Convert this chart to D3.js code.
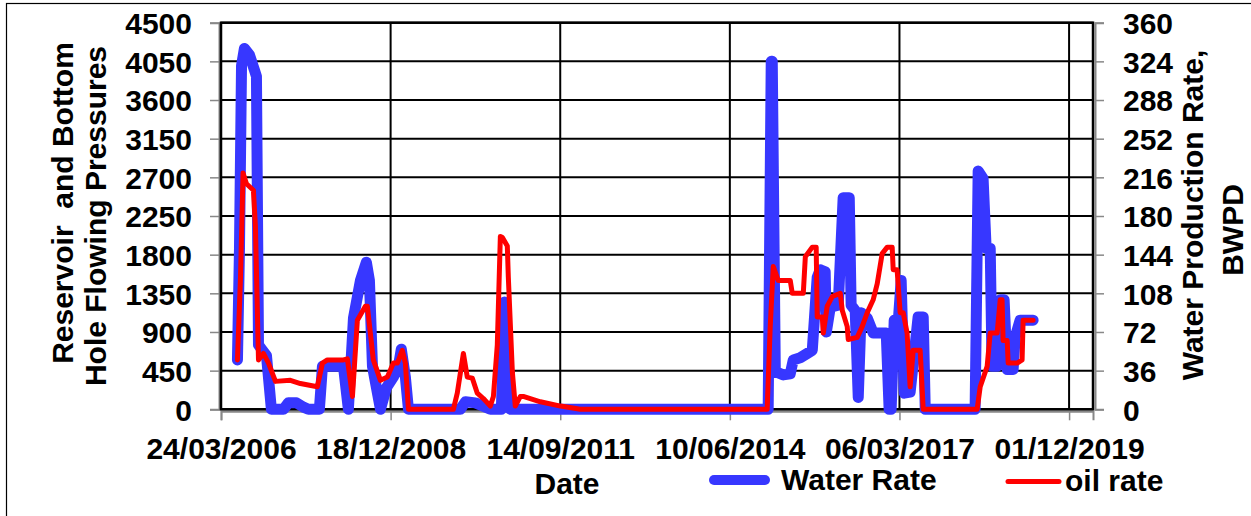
<!DOCTYPE html>
<html>
<head>
<meta charset="utf-8">
<script src="https://cdn.jsdelivr.net/npm/d3@7"></script>
<style>
  html, body { margin: 0; padding: 0; background: #fff; }
  svg { display: block; }
  text { font-family: "Liberation Sans", Arial, sans-serif; font-weight: bold; fill: #000; }
</style>
</head>
<body>
<svg id="chart" width="1251" height="516"></svg>
<script>
// Date axis tick labels (every 1000 days) and value axis ticks
const dateTicks = ["24/03/2006", "18/12/2008", "14/09/2011", "10/06/2014", "06/03/2017", "01/12/2019"];
const dateDomain = ["2006-03-24", "2020-04-20"];
const pressureTicks = [0, 450, 900, 1350, 1800, 2250, 2700, 3150, 3600, 4050, 4500];
const rateTicks = [0, 36, 72, 108, 144, 180, 216, 252, 288, 324, 360];

// Water production rate, BWPD
const waterRate = [
  ["2006-06-29", 46], ["2006-07-11", 150], ["2006-07-23", 320], ["2006-08-09", 336],
  ["2006-09-08", 330], ["2006-10-07", 316], ["2006-10-19", 310], ["2006-10-31", 60],
  ["2006-11-23", 55], ["2006-12-17", 50], ["2007-01-15", 0], ["2007-03-27", 0],
  ["2007-04-25", 6], ["2007-06-12", 6], ["2007-07-23", 2], ["2007-08-21", 0],
  ["2007-10-25", 0], ["2007-11-12", 40], ["2008-03-15", 40], ["2008-04-13", 0],
  ["2008-05-13", 85], ["2008-06-23", 120], ["2008-07-28", 137], ["2008-08-15", 120],
  ["2008-09-02", 40], ["2008-10-19", 0], ["2008-11-23", 20], ["2009-01-03", 30],
  ["2009-02-02", 40], ["2009-02-19", 56], ["2009-03-15", 30], ["2009-04-02", 0],
  ["2010-02-02", 0], ["2010-03-04", 7], ["2010-05-02", 6], ["2010-07-29", 0],
  ["2010-10-02", 0], ["2010-10-20", 100], ["2010-11-06", 60], ["2010-11-24", 0],
  ["2015-01-22", 0], ["2015-02-09", 324], ["2015-02-15", 324], ["2015-03-05", 35],
  ["2015-04-21", 32], ["2015-06-01", 33], ["2015-06-19", 46], ["2015-07-30", 48],
  ["2015-09-09", 52], ["2015-10-09", 55], ["2015-11-07", 123], ["2015-11-25", 130],
  ["2015-12-24", 128], ["2015-12-31", 72], ["2016-01-23", 95], ["2016-03-10", 97],
  ["2016-04-08", 197], ["2016-05-14", 197], ["2016-05-25", 97], ["2016-06-18", 92],
  ["2016-07-06", 11], ["2016-07-23", 90], ["2016-08-28", 85], ["2016-10-02", 71],
  ["2016-12-18", 71], ["2017-01-04", 0], ["2017-01-16", 0], ["2017-02-03", 83],
  ["2017-02-26", 80], ["2017-03-16", 120], ["2017-04-03", 15], ["2017-05-08", 16],
  ["2017-06-24", 86], ["2017-07-24", 86], ["2017-08-05", 0], ["2018-05-26", 0],
  ["2018-06-13", 222], ["2018-07-12", 215], ["2018-07-30", 150], ["2018-08-23", 150],
  ["2018-09-03", 40], ["2018-10-03", 40], ["2018-10-21", 102], ["2018-11-13", 102],
  ["2018-12-01", 37], ["2019-01-05", 37], ["2019-01-17", 67], ["2019-02-15", 83],
  ["2019-05-03", 83]
];

// Oil rate, BOPD
const oilRate = [
  ["2006-06-29", 46], ["2006-07-17", 123], ["2006-08-01", 220], ["2006-08-21", 210],
  ["2006-10-01", 204], ["2006-10-13", 170], ["2006-10-31", 46], ["2006-11-29", 52],
  ["2006-12-29", 43], ["2007-02-08", 26], ["2007-05-07", 27], ["2007-07-05", 24],
  ["2007-10-13", 21], ["2007-11-12", 43], ["2007-12-11", 46], ["2008-03-15", 46],
  ["2008-04-07", 47], ["2008-05-07", 12], ["2008-06-05", 83], ["2008-07-22", 96],
  ["2008-08-03", 96], ["2008-09-07", 46], ["2008-10-19", 27], ["2008-11-29", 30],
  ["2009-01-03", 43], ["2009-01-27", 43], ["2009-02-25", 55], ["2009-03-15", 43],
  ["2009-04-02", 0], ["2009-12-23", 0], ["2010-01-15", 15], ["2010-02-20", 52],
  ["2010-03-15", 30], ["2010-04-14", 29], ["2010-05-13", 15], ["2010-06-18", 10],
  ["2010-07-29", 3], ["2010-08-16", 12], ["2010-09-08", 60], ["2010-09-26", 161],
  ["2010-10-08", 160], ["2010-11-06", 152], ["2010-11-12", 123], ["2010-12-06", 34],
  ["2010-12-23", 3], ["2011-01-22", 12], ["2011-02-08", 12], ["2011-05-20", 7],
  ["2011-09-16", 3], ["2012-01-10", 0], ["2015-01-16", 0], ["2015-02-03", 77],
  ["2015-02-21", 133], ["2015-03-22", 120], ["2015-06-01", 120], ["2015-06-13", 108],
  ["2015-08-17", 108], ["2015-08-29", 142], ["2015-10-09", 151], ["2015-11-01", 151],
  ["2015-11-07", 86], ["2015-12-07", 86], ["2015-12-13", 71], ["2016-01-05", 96],
  ["2016-02-04", 105], ["2016-03-22", 108], ["2016-04-03", 92], ["2016-05-02", 77],
  ["2016-05-08", 65], ["2016-06-30", 67], ["2016-07-29", 77], ["2016-08-28", 90],
  ["2016-10-02", 102], ["2016-10-26", 117], ["2016-11-24", 145], ["2016-12-24", 151],
  ["2017-01-22", 151], ["2017-01-28", 130], ["2017-02-20", 130], ["2017-03-10", 90],
  ["2017-03-28", 90], ["2017-04-20", 71], ["2017-05-08", 21], ["2017-05-26", 55],
  ["2017-07-06", 55], ["2017-07-24", 0], ["2018-06-07", 0], ["2018-06-25", 21],
  ["2018-08-05", 40], ["2018-08-23", 71], ["2018-10-03", 71], ["2018-10-21", 102],
  ["2018-11-01", 102], ["2018-11-07", 64], ["2018-12-01", 64], ["2018-12-07", 43],
  ["2019-01-29", 43], ["2019-02-27", 46], ["2019-03-05", 83], ["2019-05-03", 83]
];

const svg = d3.select("#chart");
const parseIso = d3.utcParse("%Y-%m-%d");
const parseDmy = d3.utcParse("%d/%m/%Y");
const fmtDmy = d3.utcFormat("%d/%m/%Y");

const plot = { left: 221, right: 1093, top: 22.7, bottom: 409.3 };

const x = d3.scaleUtc().domain(dateDomain.map(parseIso)).range([plot.left, plot.right]);
const yLeft = d3.scaleLinear().domain([0, 4500]).range([plot.bottom, plot.top]);
const yRight = d3.scaleLinear().domain([0, 360]).range([plot.bottom, plot.top]);

// outer frame of the figure
svg.append("rect").attr("x", 6.5).attr("y", 3.5).attr("width", 1260).attr("height", 530)
  .attr("fill", "none").attr("stroke", "#000").attr("stroke-width", 1.2);

// gridlines
const grid = svg.append("g").attr("stroke", "#000").attr("stroke-width", 2);
grid.selectAll("line.h").data(pressureTicks).join("line").attr("class", "h")
  .attr("x1", plot.left).attr("x2", plot.right)
  .attr("y1", d => yLeft(d)).attr("y2", d => yLeft(d));
grid.selectAll("line.v").data(dateTicks.map(parseDmy)).join("line").attr("class", "v")
  .attr("x1", d => x(d)).attr("x2", d => x(d))
  .attr("y1", plot.top).attr("y2", plot.bottom);

// axes
const fontSize = 30;
const leftAxis = svg.append("g").attr("transform", `translate(${plot.left - 2},0)`)
  .call(d3.axisLeft(yLeft).tickValues(pressureTicks).tickSize(9).tickPadding(18).tickFormat(d3.format("d")));
const rightAxis = svg.append("g").attr("transform", `translate(${plot.right + 2},0)`)
  .call(d3.axisRight(yRight).tickValues(rateTicks).tickSize(9).tickPadding(19).tickFormat(d3.format("d")));
const bottomAxis = svg.append("g").attr("transform", `translate(0,${plot.bottom + 2})`)
  .call(d3.axisBottom(x).tickValues(dateTicks.map(parseDmy)).tickSize(9).tickPadding(17).tickFormat(fmtDmy));

[leftAxis, rightAxis, bottomAxis].forEach(g => {
  g.select(".domain").attr("stroke", "#888").attr("stroke-width", 2);
  g.selectAll(".tick line").attr("stroke", "#888").attr("stroke-width", 1.5);
  g.selectAll(".tick text").style("font-size", fontSize + "px")
    .style("font-family", '"Liberation Sans", Arial, sans-serif').style("font-weight", "bold")
    .attr("fill", "#000");
});
leftAxis.selectAll(".tick text").attr("dy", "0.36em");
rightAxis.selectAll(".tick text").attr("dy", "0.36em");
bottomAxis.selectAll(".tick text").attr("dy", "0.71em");

// plot area border
svg.append("rect").attr("x", plot.left).attr("y", plot.top)
  .attr("width", plot.right - plot.left).attr("height", plot.bottom - plot.top)
  .attr("fill", "none").attr("stroke", "#000").attr("stroke-width", 2.5);

// series
const line = d3.line().x(d => x(parseIso(d[0]))).y(d => yRight(d[1]));
svg.append("path").datum(waterRate).attr("d", line)
  .attr("fill", "none").attr("stroke", "#3737ff").attr("stroke-width", 11)
  .attr("stroke-linejoin", "round").attr("stroke-linecap", "round");
svg.append("path").datum(oilRate).attr("d", line)
  .attr("fill", "none").attr("stroke", "#ff0000").attr("stroke-width", 5)
  .attr("stroke-linejoin", "round").attr("stroke-linecap", "round");

// axis titles
function rotatedTitle(cx, cy, text) {
  svg.append("text").attr("transform", `translate(${cx},${cy}) rotate(-90)`)
    .attr("text-anchor", "middle").style("font-size", "30px").style("white-space", "pre")
    .text(text);
}
rotatedTitle(73, 203, "Reservoir  and Bottom");
rotatedTitle(106, 216, "Hole Flowing Pressures");
rotatedTitle(1203, 215, "Water Production Rate,");
rotatedTitle(1243, 230, "BWPD");

svg.append("text").attr("x", 567).attr("y", 494).attr("text-anchor", "middle")
  .style("font-size", "30px").text("Date");

// legend
const legend = svg.append("g");
legend.append("line").attr("x1", 714).attr("x2", 765).attr("y1", 480).attr("y2", 480)
  .attr("stroke", "#3737ff").attr("stroke-width", 10).attr("stroke-linecap", "round");
legend.append("text").attr("x", 781).attr("y", 490).style("font-size", "30px").text("Water Rate");
legend.append("line").attr("x1", 1008).attr("x2", 1059).attr("y1", 481.5).attr("y2", 481.5)
  .attr("stroke", "#ff0000").attr("stroke-width", 5).attr("stroke-linecap", "round");
legend.append("text").attr("x", 1065).attr("y", 491).style("font-size", "30px").text("oil rate");
</script>
</body>
</html>
